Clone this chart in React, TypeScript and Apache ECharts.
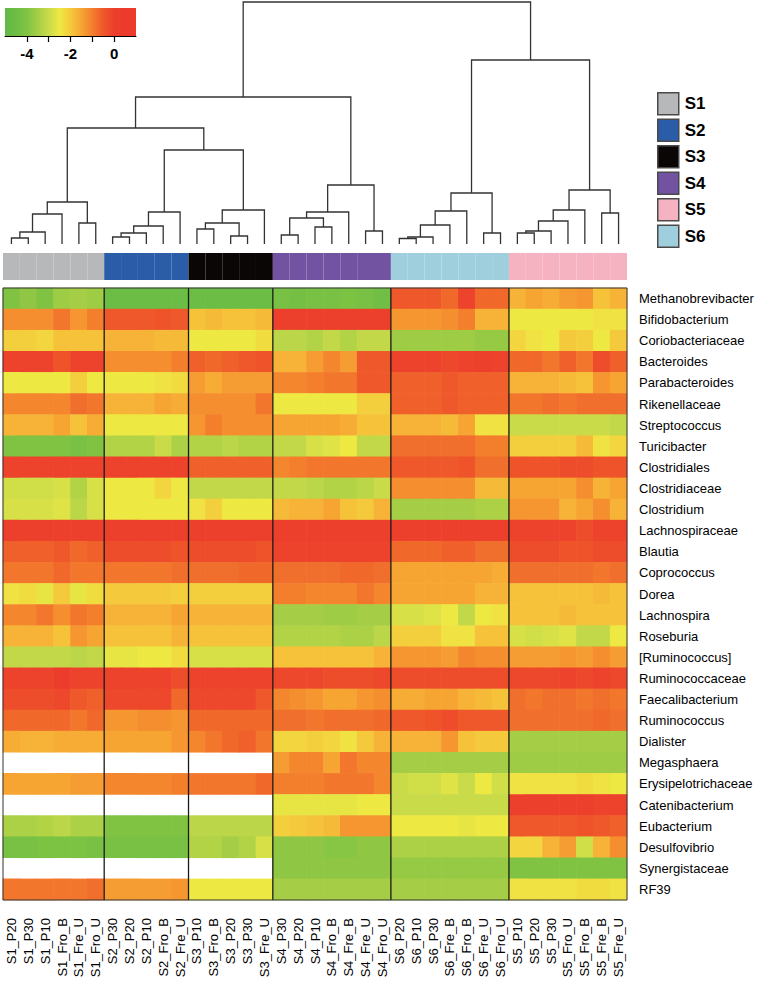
import React, { useEffect, useRef } from "react";
import * as echarts from "echarts";

// ---------- DATA ----------
const rowNames = [
  "Methanobrevibacter", "Bifidobacterium", "Coriobacteriaceae", "Bacteroides", "Parabacteroides",
  "Rikenellaceae", "Streptococcus", "Turicibacter", "Clostridiales", "Clostridiaceae",
  "Clostridium", "Lachnospiraceae", "Blautia", "Coprococcus", "Dorea",
  "Lachnospira", "Roseburia", "[Ruminococcus]", "Ruminococcaceae", "Faecalibacterium",
  "Ruminococcus", "Dialister", "Megasphaera", "Erysipelotrichaceae", "Catenibacterium",
  "Eubacterium", "Desulfovibrio", "Synergistaceae", "RF39",
];

const colsS1 = ["S1_P20", "S1_P30", "S1_P10", "S1_Fro_B", "S1_Fre_U", "S1_Fro_U"];
const colsS2 = ["S2_P30", "S2_P20", "S2_P10", "S2_Fro_B", "S2_Fre_U"];
const colsS3 = ["S3_P10", "S3_Fro_B", "S3_P20", "S3_P30", "S3_Fre_U"];
const colsS4 = ["S4_P30", "S4_P20", "S4_P10", "S4_Fro_B", "S4_Fre_B", "S4_Fre_U", "S4_Fro_U"];
const colsS6 = ["S6_P20", "S6_P10", "S6_P30", "S6_Fre_B", "S6_Fro_B", "S6_Fre_U", "S6_Fro_U"];
const colsS5 = ["S5_P10", "S5_P20", "S5_P30", "S5_Fro_U", "S5_Fro_B", "S5_Fre_B", "S5_Fre_U"];

const N = null;
const valuesS1 = [
  [-4.0, -3.8, -4.0, -3.6, -3.5, -3.6],
  [-1.2, -1.2, -1.2, -0.9, -1.3, -1.0],
  [-2.1, -2.1, -2.2, -1.9, -1.9, -1.9],
  [-0.1, -0.1, -0.1, -0.4, -0.1, -0.1],
  [-2.5, -2.5, -2.5, -2.5, -2.1, -2.5],
  [-1.1, -1.1, -1.1, -1.1, -0.8, -0.9],
  [-1.7, -1.7, -1.7, -1.5, -1.9, -1.6],
  [-4.0, -4.0, -4.0, -4.0, -4.2, -4.0],
  [-0.1, -0.1, -0.1, -0.1, -0.1, -0.1],
  [-2.9, -2.9, -2.9, -2.8, -3.3, -2.8],
  [-2.8, -2.8, -2.8, -2.7, -3.2, -2.8],
  [-0.05, -0.05, -0.05, -0.05, -0.05, -0.05],
  [-0.6, -0.6, -0.6, -0.5, -0.7, -0.6],
  [-0.9, -0.9, -0.9, -0.7, -0.9, -0.9],
  [-2.4, -2.3, -2.6, -2.0, -2.6, -2.3],
  [-1.1, -1.1, -0.9, -1.2, -0.9, -1.0],
  [-1.7, -1.7, -1.7, -1.9, -1.3, -1.5],
  [-3.1, -3.1, -3.1, -3.1, -3.2, -3.1],
  [-0.1, -0.1, -0.1, 0.0, -0.1, -0.1],
  [-0.3, -0.3, -0.3, -0.2, -0.5, -0.6],
  [-0.7, -0.7, -0.7, -0.7, -0.9, -0.7],
  [-1.6, -1.7, -1.7, -1.6, -1.6, -1.6],
  [N, N, N, N, N, N],
  [-1.5, -1.5, -1.5, -1.5, -1.4, -1.4],
  [N, N, N, N, N, N],
  [-3.4, -3.4, -3.3, -3.2, -3.4, -3.4],
  [-4.2, -4.2, -4.1, -4.1, -4.1, -4.2],
  [N, N, N, N, N, N],
  [-0.9, -0.9, -0.9, -0.9, -0.9, -0.8],
];
const valuesS2 = [
  [-4.5, -4.5, -4.5, -4.5, -4.5],
  [-0.5, -0.5, -0.5, -0.4, -0.5],
  [-1.7, -1.7, -1.7, -1.8, -1.8],
  [-1.2, -1.2, -1.2, -1.2, -1.0],
  [-2.5, -2.5, -2.5, -2.4, -2.3],
  [-1.7, -1.7, -1.7, -1.5, -1.6],
  [-2.5, -2.5, -2.5, -2.5, -2.5],
  [-3.3, -3.3, -3.3, -3.0, -3.4],
  [-0.1, -0.1, -0.1, -0.1, -0.1],
  [-2.5, -2.5, -2.5, -2.2, -2.5],
  [-2.5, -2.5, -2.5, -2.5, -2.5],
  [-0.05, -0.05, -0.05, -0.05, -0.05],
  [-0.3, -0.3, -0.3, -0.3, -0.4],
  [-0.9, -0.9, -0.9, -0.9, -0.8],
  [-2.0, -2.0, -2.0, -2.0, -2.1],
  [-1.7, -1.7, -1.7, -1.7, -1.5],
  [-1.9, -1.9, -1.9, -1.9, -1.7],
  [-2.6, -2.6, -2.5, -2.5, -2.3],
  [-0.1, -0.1, -0.1, -0.1, -0.3],
  [-0.2, -0.2, -0.2, -0.2, -0.7],
  [-1.3, -1.3, -1.2, -1.2, -1.3],
  [-1.5, -1.5, -1.5, -1.5, -1.3],
  [N, N, N, N, N],
  [-1.1, -1.1, -1.1, -1.1, -1.0],
  [N, N, N, N, N],
  [-4.0, -4.0, -4.0, -4.0, -4.0],
  [-4.2, -4.2, -4.2, -4.2, -4.2],
  [N, N, N, N, N],
  [-1.4, -1.4, -1.4, -1.4, -1.3],
];
const valuesS3 = [
  [-4.5, -4.5, -4.5, -4.5, -4.5],
  [-1.9, -1.8, -1.9, -1.9, -1.8],
  [-2.5, -2.5, -2.5, -2.5, -2.3],
  [-0.6, -0.7, -0.6, -0.5, -0.4],
  [-1.4, -1.6, -1.4, -1.4, -1.4],
  [-1.2, -1.2, -1.2, -1.2, -0.9],
  [-1.3, -1.0, -1.2, -1.2, -1.2],
  [-3.3, -3.3, -3.2, -3.3, -3.3],
  [-0.6, -0.6, -0.6, -0.6, -0.6],
  [-3.1, -3.1, -3.1, -3.1, -3.1],
  [-2.4, -2.1, -2.5, -2.5, -2.5],
  [-0.05, -0.05, -0.05, -0.05, -0.05],
  [-0.3, -0.3, -0.3, -0.3, -0.4],
  [-0.8, -0.8, -0.8, -0.7, -0.7],
  [-2.1, -2.1, -2.1, -2.1, -2.1],
  [-1.7, -1.7, -1.7, -1.7, -1.7],
  [-1.9, -1.9, -1.9, -1.9, -1.9],
  [-2.8, -2.8, -2.8, -2.8, -2.8],
  [-0.1, -0.1, -0.1, -0.1, -0.1],
  [-0.2, -0.2, -0.2, -0.2, -0.5],
  [-0.7, -0.7, -0.7, -0.7, -0.7],
  [-1.1, -0.9, -0.7, -0.6, -0.9],
  [N, N, N, N, N],
  [-0.9, -0.9, -0.9, -0.9, -0.7],
  [N, N, N, N, N],
  [-3.2, -3.2, -3.2, -3.2, -3.2],
  [-3.3, -3.3, -3.5, -3.3, -2.8],
  [N, N, N, N, N],
  [-2.5, -2.5, -2.5, -2.5, -2.5],
];
const valuesS4 = [
  [-4.2, -4.3, -4.2, -4.2, -4.1, -4.2, -4.4],
  [-0.05, -0.05, -0.05, -0.05, -0.05, -0.05, -0.05],
  [-3.2, -3.2, -3.3, -3.1, -3.3, -3.1, -3.1],
  [-1.7, -1.7, -1.4, -1.1, -1.4, -0.5, -0.5],
  [-1.1, -1.1, -1.0, -0.9, -0.9, -0.5, -0.5],
  [-2.5, -2.5, -2.5, -2.5, -2.5, -2.1, -2.1],
  [-1.5, -1.5, -1.5, -1.5, -1.6, -1.9, -1.9],
  [-3.1, -3.1, -2.8, -2.7, -2.5, -3.1, -3.1],
  [-1.1, -1.0, -0.9, -0.9, -0.9, -0.9, -0.9],
  [-3.1, -3.1, -3.2, -3.3, -3.3, -3.2, -3.0],
  [-1.8, -1.7, -1.7, -1.5, -1.9, -2.0, -1.7],
  [-0.05, -0.05, -0.05, -0.05, -0.05, -0.05, -0.05],
  [-0.1, -0.1, -0.1, -0.1, -0.1, -0.1, -0.1],
  [-0.8, -0.8, -0.8, -0.8, -0.7, -0.7, -0.8],
  [-1.0, -1.0, -1.1, -1.1, -1.1, -0.9, -1.1],
  [-3.5, -3.5, -3.5, -3.6, -3.6, -3.5, -3.5],
  [-3.3, -3.3, -3.3, -3.3, -3.4, -3.4, -3.2],
  [-1.9, -1.9, -1.9, -1.9, -1.9, -1.9, -1.7],
  [-0.2, -0.2, -0.2, -0.3, -0.3, -0.3, -0.2],
  [-1.1, -1.2, -1.3, -1.5, -1.5, -1.3, -1.2],
  [-0.8, -0.8, -0.9, -0.8, -0.8, -0.8, -0.7],
  [-2.2, -2.2, -2.1, -2.2, -2.4, -2.0, -1.7],
  [-1.4, -1.1, -1.1, -1.5, -0.9, -1.1, -1.1],
  [-1.0, -1.0, -1.0, -0.9, -0.9, -0.9, -1.1],
  [-2.6, -2.6, -2.6, -2.6, -2.6, -2.5, -2.5],
  [-2.1, -2.0, -1.9, -1.8, -1.3, -1.3, -1.3],
  [-3.8, -3.8, -3.8, -3.9, -3.9, -3.8, -3.8],
  [-3.8, -3.8, -3.8, -3.8, -3.8, -3.8, -3.8],
  [-3.5, -3.5, -3.5, -3.5, -3.5, -3.5, -3.5],
];
const valuesS6 = [
  [-0.5, -0.5, -0.5, -0.7, -0.1, -0.7, -0.7],
  [-1.3, -1.3, -1.3, -1.2, -1.0, -1.7, -1.7],
  [-3.6, -3.6, -3.6, -3.6, -3.6, -3.7, -3.7],
  [-0.1, -0.1, -0.1, -0.2, -0.1, -0.05, -0.1],
  [-0.6, -0.6, -0.6, -0.5, -0.6, -0.6, -0.6],
  [-0.6, -0.6, -0.6, -0.5, -0.6, -0.6, -0.6],
  [-1.7, -1.7, -1.7, -1.8, -1.5, -2.4, -2.4],
  [-0.8, -0.8, -0.8, -0.8, -0.8, -1.0, -1.0],
  [-0.5, -0.5, -0.5, -0.5, -0.4, -0.8, -0.8],
  [-1.2, -1.2, -1.2, -1.2, -1.2, -1.8, -1.8],
  [-3.5, -3.5, -3.5, -3.5, -3.5, -3.4, -3.4],
  [-0.05, -0.05, -0.05, -0.05, -0.05, -0.05, -0.05],
  [-0.7, -0.7, -0.7, -0.6, -0.6, -0.8, -0.8],
  [-1.5, -1.5, -1.5, -1.5, -1.5, -1.5, -1.6],
  [-1.5, -1.5, -1.5, -1.5, -1.5, -1.7, -1.7],
  [-2.8, -2.8, -2.7, -2.5, -3.1, -2.5, -2.4],
  [-2.1, -2.1, -2.1, -2.4, -2.4, -1.9, -1.9],
  [-1.3, -1.3, -1.3, -1.4, -1.1, -1.2, -1.2],
  [-0.3, -0.3, -0.3, -0.3, -0.3, -0.3, -0.3],
  [-1.6, -1.6, -1.5, -1.5, -1.7, -1.8, -1.9],
  [-0.5, -0.5, -0.4, -0.3, -0.5, -0.5, -0.5],
  [-1.7, -1.7, -1.7, -1.3, -1.9, -2.0, -2.0],
  [-3.5, -3.5, -3.5, -3.5, -3.5, -3.5, -3.5],
  [-3.0, -2.9, -2.9, -2.7, -3.0, -2.5, -2.9],
  [-3.0, -3.0, -3.0, -3.0, -3.0, -3.0, -3.0],
  [-2.5, -2.5, -2.5, -2.5, -2.6, -2.5, -2.5],
  [-3.4, -3.4, -3.4, -3.4, -3.4, -3.4, -3.4],
  [-3.7, -3.7, -3.7, -3.7, -3.7, -3.7, -3.7],
  [-3.5, -3.5, -3.5, -3.5, -3.5, -3.5, -3.5],
];
const valuesS5 = [
  [-1.7, -1.5, -1.6, -1.4, -1.3, -1.9, -1.7],
  [-2.5, -2.5, -2.5, -2.5, -2.5, -2.4, -2.4],
  [-2.2, -2.4, -2.5, -2.0, -2.1, -2.5, -2.0],
  [-0.7, -0.7, -0.9, -0.6, -0.9, -0.3, -0.6],
  [-1.7, -1.7, -1.7, -1.8, -1.9, -1.3, -1.5],
  [-0.9, -0.9, -0.8, -0.9, -0.8, -0.8, -0.8],
  [-3.0, -3.0, -3.0, -3.0, -3.0, -3.0, -3.1],
  [-2.1, -2.1, -2.1, -2.1, -1.8, -2.4, -2.2],
  [-0.4, -0.4, -0.4, -0.3, -0.3, -0.4, -0.4],
  [-1.5, -1.5, -1.5, -1.5, -1.2, -1.7, -1.5],
  [-1.3, -1.3, -1.3, -1.7, -1.5, -1.2, -1.7],
  [-0.1, -0.1, -0.1, -0.1, -0.3, -0.1, -0.1],
  [-0.3, -0.3, -0.3, -0.4, -0.4, -0.3, -0.3],
  [-0.8, -0.8, -0.8, -0.8, -0.8, -0.9, -0.8],
  [-1.9, -1.9, -1.9, -1.9, -1.9, -1.8, -1.9],
  [-1.9, -1.9, -1.9, -1.8, -1.9, -1.9, -1.9],
  [-2.8, -2.9, -2.8, -2.7, -3.1, -3.1, -2.5],
  [-1.4, -1.4, -1.4, -1.3, -1.4, -1.2, -1.4],
  [-0.2, -0.2, -0.2, -0.1, -0.2, -0.1, -0.2],
  [-0.8, -0.9, -0.8, -0.8, -0.9, -0.8, -0.9],
  [-0.8, -0.8, -0.8, -0.8, -0.8, -0.7, -0.8],
  [-3.5, -3.5, -3.5, -3.5, -3.5, -3.5, -3.5],
  [-3.6, -3.6, -3.6, -3.6, -3.6, -3.6, -3.6],
  [-2.4, -2.4, -2.4, -2.4, -2.3, -2.4, -2.5],
  [-0.05, -0.05, -0.05, -0.05, -0.05, -0.1, -0.1],
  [-0.5, -0.5, -0.5, -0.5, -0.4, -0.5, -0.6],
  [-2.2, -2.2, -1.7, -1.4, -2.9, -1.7, -1.2],
  [-4.0, -4.0, -4.0, -4.0, -4.0, -4.0, -4.0],
  [-2.4, -2.4, -2.4, -2.4, -2.3, -2.3, -2.4],
];

// column order of groups in the heatmap
const groupOrder = ["S1", "S2", "S3", "S4", "S6", "S5"];
const groupCols = [colsS1, colsS2, colsS3, colsS4, colsS6, colsS5];
const groupValues = [valuesS1, valuesS2, valuesS3, valuesS4, valuesS6, valuesS5];
const legendOrder = ["S1", "S2", "S3", "S4", "S5", "S6"];
const groupColors: Record<string, string> = {
  S1: "#b7b8ba", S2: "#2a5ca8", S3: "#0b0606", S4: "#7153a2", S5: "#f5b3c2", S6: "#9fcfdc",
};

// Column dendrogram (hclust style): negative = leaf (1-based column), positive = earlier merge
const dendroMerges: [number, number, number][] = [
  [-1, -2, 0.6], [1, -3, 1.2], [2, -4, 3.0], [-5, -6, 2.1], [3, 4, 4.2],
  [-7, -8, 0.7], [6, -9, 1.1], [7, -10, 1.8], [8, -11, 3.2],
  [-12, -13, 1.5], [-14, -15, 0.8], [10, 11, 2.1], [12, -16, 3.4],
  [-17, -18, 0.9], [-19, -20, 1.7], [14, 15, 2.6], [16, -21, 3.2], [-22, -23, 1.3], [17, 18, 5.9],
  [-24, -25, 0.55], [20, -26, 0.7], [21, -27, 1.9], [22, -28, 3.3], [-29, -30, 1.1], [23, 24, 5.1],
  [-31, -32, 1.1], [26, -33, 1.3], [27, -34, 2.3], [28, -35, 3.4], [-36, -37, 3.1], [29, 30, 5.4],
  [9, 13, 9.4], [5, 32, 11.6], [33, 19, 14.7], [25, 31, 18.4], [34, 35, 24.2],
];

// colour key
const keyMin = -5;
const keyMax = 1;
const keyTicks = [-4, -3, -2, -1, 0];
const keyLabels = [-4, -2, 0];
const scaleColors = [
  "#62b946", "#6cbd45", "#80c343", "#a5ce46", "#c9db49", "#eee843",
  "#f5c93c", "#f6a533", "#f37f2d", "#ef582a", "#ec3d2c", "#ec3b2c", "#ec3b2c",
];

// ---------- BUILD ----------
const allCols: string[] = groupCols.flat();
const colGroup: string[] = groupCols.flatMap((cols, g) => cols.map(() => groupOrder[g]));

const heatData: number[][] = [];
{
  let offset = 0;
  groupValues.forEach((mat, g) => {
    mat.forEach((row, r) => {
      row.forEach((v, j) => {
        if (v !== null) heatData.push([offset + j, r, v as number]);
      });
    });
    offset += groupCols[g].length;
  });
}

const boundaries: number[][] = [];
{
  let acc = 0;
  groupCols.forEach((cols, g) => {
    acc += cols.length;
    if (g < groupCols.length - 1) boundaries.push([acc - 0.5]);
  });
}

function buildDendro() {
  const pos: { x: number; h: number }[] = [];
  const segs: number[][] = [];
  const get = (k: number) => (k < 0 ? { x: -k - 1, h: 0 } : pos[k - 1]);
  dendroMerges.forEach(([a, b, h]) => {
    const A = get(a);
    const B = get(b);
    segs.push([A.x, A.h, B.x, B.h, h]);
    pos.push({ x: (A.x + B.x) / 2, h });
  });
  return segs;
}
const dendroSegs = buildDendro();
const rootHeight = Math.max(...dendroMerges.map((m) => m[2]));

const FONT = "'Liberation Sans', Arial, Helvetica, sans-serif";
const GRID_L = 3;
const GRID_W = 624;

export default function App() {
  const ref = useRef<HTMLDivElement>(null);
  useEffect(() => {
    const chart = echarts.init(ref.current!, null, { renderer: "svg" });
    const nCols = allCols.length;
    const gradStops = scaleColors.map((c, i) => ({ offset: i / (scaleColors.length - 1), color: c }));

    const barSeries = groupOrder.map((g) => ({
      type: "bar",
      name: g,
      xAxisIndex: 2,
      yAxisIndex: 2,
      barGap: "-100%",
      barCategoryGap: "0%",
      itemStyle: { color: groupColors[g] },
      data: colGroup.map((cg) => (cg === g ? 1 : "-")),
      silent: true,
    }));

    const option: any = {
      animation: false,
      backgroundColor: "#ffffff",
      textStyle: { fontFamily: FONT },
      grid: [
        { left: 5, top: 8, width: 131, height: 28 },
        { left: GRID_L, top: 2, width: GRID_W, height: 242 },
        { left: GRID_L, top: 253, width: GRID_W, height: 27 },
        { left: GRID_L, top: 288, width: GRID_W, height: 612 },
        { left: GRID_L, top: 288, width: GRID_W, height: 612 },
      ],
      xAxis: [
        {
          gridIndex: 0, type: "value", min: keyMin, max: keyMax,
          axisLine: { show: true, onZero: false, lineStyle: { color: "#000", width: 1 } },
          axisTick: { show: true, customValues: keyTicks, length: 6, lineStyle: { color: "#000", width: 1.2 } },
          axisLabel: { customValues: keyLabels, fontSize: 15, fontWeight: "bold", color: "#000", margin: 10, fontFamily: FONT },
          splitLine: { show: false },
        },
        { gridIndex: 1, type: "value", min: -0.5, max: nCols - 0.5, show: false },
        { gridIndex: 2, type: "category", data: allCols, show: false },
        {
          gridIndex: 3, type: "category", data: allCols, position: "bottom",
          axisLine: { show: false }, axisTick: { show: false }, splitLine: { show: false },
          axisLabel: { rotate: 90, interval: 0, fontSize: 13, color: "#000", margin: 18, fontFamily: FONT },
        },
        { gridIndex: 4, type: "value", min: -0.5, max: nCols - 0.5, show: false },
      ],
      yAxis: [
        { gridIndex: 0, type: "value", min: 0, max: 1, show: false },
        { gridIndex: 1, type: "value", min: 0, max: rootHeight, show: false },
        { gridIndex: 2, type: "value", min: 0, max: 1, show: false },
        {
          gridIndex: 3, type: "category", data: rowNames, inverse: true, position: "right",
          axisLine: { show: false }, axisTick: { show: false }, splitLine: { show: false },
          axisLabel: { interval: 0, fontSize: 13, color: "#000", margin: 12, fontFamily: FONT },
        },
        { gridIndex: 4, type: "value", min: 0, max: 1, show: false },
      ],
      legend: {
        data: legendOrder,
        orient: "vertical",
        left: 657,
        top: 92,
        padding: 0,
        itemWidth: 21,
        itemHeight: 22,
        itemGap: 3,
        icon: "rect",
        selectedMode: false,
        itemStyle: { borderColor: "#4a4a4a", borderWidth: 1.5 },
        textStyle: { fontSize: 17, fontWeight: "bold", color: "#000", fontFamily: FONT, padding: [0, 0, 0, 1] },
      },
      visualMap: {
        type: "continuous",
        show: false,
        min: keyMin,
        max: keyMax,
        dimension: 2,
        seriesIndex: 2 + groupOrder.length,
        inRange: { color: scaleColors },
      },
      series: [
        {
          type: "custom",
          xAxisIndex: 0,
          yAxisIndex: 0,
          silent: true,
          data: [[keyMin, keyMax]],
          renderItem: (params: any, api: any) => {
            const p0 = api.coord([keyMin, 0]);
            const p1 = api.coord([keyMax, 1]);
            return {
              type: "rect",
              shape: { x: p0[0], y: p1[1], width: p1[0] - p0[0], height: p0[1] - p1[1] },
              style: { fill: new echarts.graphic.LinearGradient(0, 0, 1, 0, gradStops) },
            };
          },
        },
        {
          type: "custom",
          xAxisIndex: 1,
          yAxisIndex: 1,
          silent: true,
          clip: false,
          data: dendroSegs,
          renderItem: (params: any, api: any) => {
            const xl = api.value(0), hl = api.value(1), xr = api.value(2), hr = api.value(3), h = api.value(4);
            const pts = [api.coord([xl, hl]), api.coord([xl, h]), api.coord([xr, h]), api.coord([xr, hr])];
            return {
              type: "polyline",
              shape: { points: pts },
              style: { stroke: "#333333", lineWidth: 1.3, fill: null },
            };
          },
        },
        ...barSeries,
        {
          type: "custom",
          xAxisIndex: 3,
          yAxisIndex: 3,
          silent: true,
          data: heatData,
          encode: { x: 0, y: 1 },
          renderItem: (params: any, api: any) => {
            const c = api.coord([api.value(0), api.value(1)]);
            const s = api.size([1, 1]);
            return {
              type: "rect",
              shape: { x: c[0] - s[0] / 2 - 0.3, y: c[1] - s[1] / 2 - 0.3, width: s[0] + 0.6, height: s[1] + 0.6 },
              style: { fill: api.visual("color") },
            };
          },
        },
        {
          type: "custom",
          xAxisIndex: 4,
          yAxisIndex: 4,
          silent: true,
          clip: false,
          z: 10,
          data: boundaries,
          renderItem: (params: any, api: any) => {
            const b = api.value(0);
            const p0 = api.coord([b, 0]);
            const p1 = api.coord([b, 1]);
            return {
              type: "line",
              shape: { x1: p0[0], y1: p0[1], x2: p1[0], y2: p1[1] },
              style: { stroke: "#1a1a1a", lineWidth: 1.3 },
            };
          },
        },
        {
          type: "custom",
          xAxisIndex: 4,
          yAxisIndex: 4,
          silent: true,
          clip: false,
          z: 10,
          data: [[-0.5, nCols - 0.5]],
          renderItem: (params: any, api: any) => {
            const p0 = api.coord([api.value(0), 0]);
            const p1 = api.coord([api.value(1), 1]);
            return {
              type: "rect",
              shape: { x: p0[0], y: p1[1], width: p1[0] - p0[0], height: p0[1] - p1[1] },
              style: { stroke: "#333333", lineWidth: 1, fill: null },
            };
          },
        },
      ],
    };
    chart.setOption(option);
    return () => chart.dispose();
  }, []);
  return (
    <div
      ref={ref}
      style={{ position: "absolute", left: 0, top: 0, width: 771, height: 981, background: "#fff" }}
    />
  );
}
